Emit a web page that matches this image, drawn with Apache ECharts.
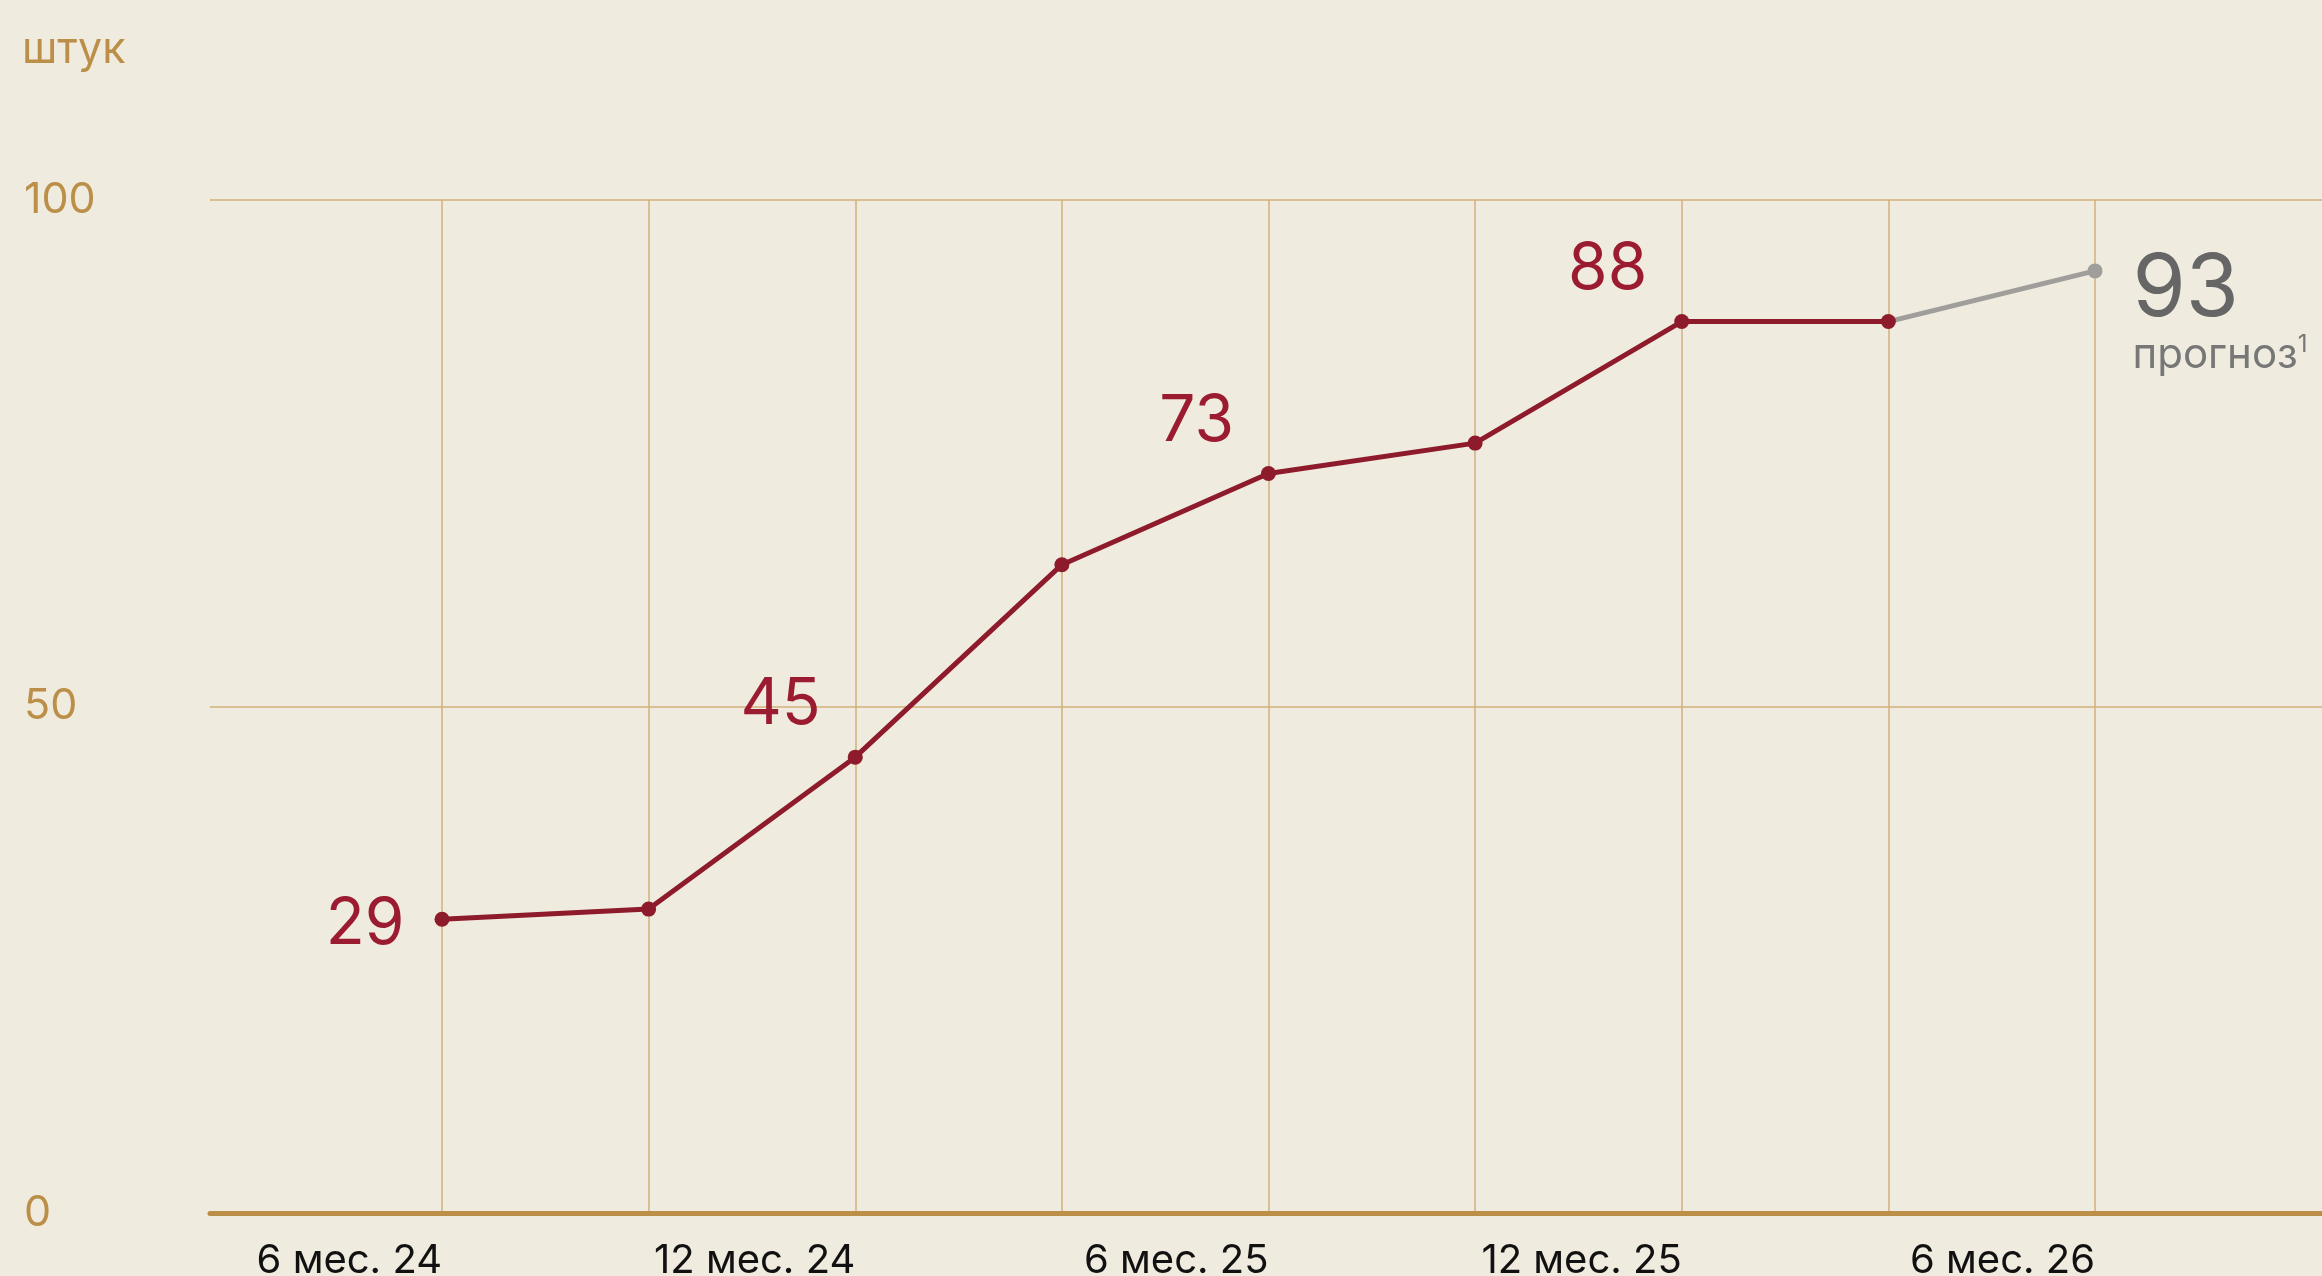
<!DOCTYPE html>
<html>
<head>
<meta charset="utf-8">
<script src="https://cdn.jsdelivr.net/npm/echarts@6/dist/echarts.min.js"></script>
<style>
html,body{margin:0;padding:0;background:#F0EBDF;}
#c{width:2322px;height:1276px;}
</style>
</head>
<body>
<div id="c"></div>
<script>
// ---- data ----
const unitLabel = 'штук';
const categories = ['6 мес. 24','9 мес. 24','12 мес. 24','3 мес. 25','6 мес. 25','9 мес. 25','12 мес. 25','3 мес. 26','6 мес. 26'];
const actualValues = [29, 30, 45, 64, 73, 76, 88, 88, null];
const forecastValues = [null, null, null, null, null, null, null, 88, 93];
const forecastLabel = 'прогноз';
const forecastNote = '1';
const yTicks = [0, 50, 100];

// ---- styles ----
const FONT = 'Inter, Roboto, "Noto Sans", sans-serif';
const GOLD = '#BC8F48';
const GRIDC = '#D2B07A';
const RED = '#8E1B2B';
const RED_TXT = '#9B1B31';
const GREY = '#A09E9B';

const chart = echarts.init(document.getElementById('c'), null, {renderer:'canvas'});

const labeledIdx = [0, 2, 4, 6];
const redData = actualValues.map((v, i) => {
  const item = {value: v};
  if (labeledIdx.includes(i)) {
    item.label = i === 0
      ? {show: true, position: 'left', distance: 30, offset: [0, 6]}
      : {show: true, position: 'left', distance: 27, offset: [0, -52]};
  }
  return item;
});
const fcData = forecastValues.map((v, i) => {
  const item = {value: v};
  if (i === forecastValues.length - 1) {
    item.label = {
      show: true, position: 'right', distance: 30, offset: [0, -24],
      verticalAlign: 'top', align: 'left',
      formatter: p => '{a|' + p.value + '}\n{b|' + forecastLabel + '}{c|' + forecastNote + '}',
      rich: {
        a: {fontFamily: FONT, fontSize: 86, lineHeight: 86, color: '#666666'},
        b: {fontFamily: FONT, fontSize: 42, lineHeight: 44, color: '#777777'},
        c: {fontFamily: FONT, fontSize: 24, lineHeight: 30, color: '#777777', verticalAlign: 'top'}
      }
    };
  } else {
    item.symbolSize = 0;
  }
  return item;
});

const option = {
  backgroundColor: '#F0EBDF',
  animation: false,
  title: {
    text: unitLabel, left: 17, top: 24,
    textStyle: {fontFamily: FONT, fontSize: 43, fontWeight: 'normal', color: GOLD}
  },
  grid: [
    {left: 210, right: 0, top: 200, bottom: 63, containLabel: false, outerBoundsMode: 'none'},
    {left: 442, right: 227, top: 200, bottom: 63, containLabel: false, outerBoundsMode: 'none'}
  ],
  xAxis: [
    {
      gridIndex: 0, type: 'value', min: 0, max: 1,
      axisLine: {show: true, lineStyle: {color: GOLD, width: 5}},
      axisTick: {show: false}, axisLabel: {show: false}, splitLine: {show: false}
    },
    {
      gridIndex: 1, type: 'category', boundaryGap: false, data: categories,
      axisLine: {show: false}, axisTick: {show: false, interval: 0},
      splitLine: {show: true, interval: 0, lineStyle: {color: GRIDC, width: 1.5}},
      axisLabel: {
        interval: 1, align: 'right', margin: 28,
        fontFamily: FONT, fontSize: 40, color: '#111111'
      }
    }
  ],
  yAxis: [
    {
      gridIndex: 0, type: 'value', min: yTicks[0], max: yTicks[yTicks.length-1], interval: 50,
      axisLine: {show: false}, axisTick: {show: false},
      splitLine: {show: true, lineStyle: {color: GRIDC, width: 1.5}},
      axisLabel: {align: 'left', margin: 186, fontFamily: FONT, fontSize: 43, color: GOLD,
        padding: [10, 0, 0, 0]}
    },
    {
      gridIndex: 1, type: 'value', min: yTicks[0], max: yTicks[yTicks.length-1], show: false
    }
  ],
  series: [
    {
      type: 'line', xAxisIndex: 1, yAxisIndex: 1, data: fcData, z: 3,
      symbol: 'circle', symbolSize: 15,
      lineStyle: {color: GREY, width: 5}, itemStyle: {color: GREY},
      label: {show: false}
    },
    {
      type: 'line', xAxisIndex: 1, yAxisIndex: 1, data: redData, z: 4,
      symbol: 'circle', symbolSize: 15,
      lineStyle: {color: RED, width: 5}, itemStyle: {color: RED},
      label: {show: false, fontFamily: FONT, fontSize: 64, color: RED_TXT}
    }
  ]
};
chart.setOption(option);
</script>
</body>
</html>
